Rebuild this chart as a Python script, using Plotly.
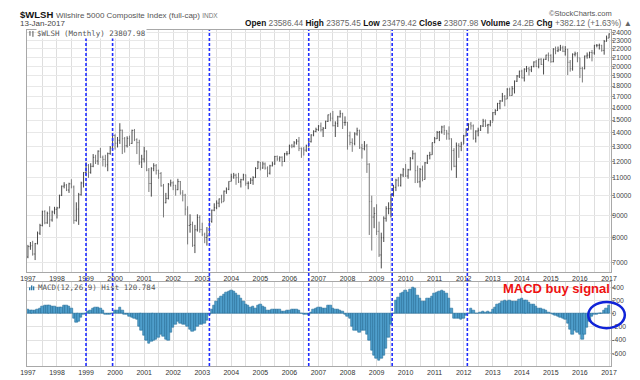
import plotly.graph_objects as go
import pandas as pd
import math

# ---------------- data ----------------
months = pd.date_range("1997-01-01", periods=241, freq="MS")
first_open = 7198

closes = [
    7610, 7647, 7314, 7733, 8178, 8524, 9180, 8644, 9094, 8780, 9162, 9297,
    9362, 10021, 10522, 10584, 10308, 10658, 10479, 8759, 9306, 10053, 10705, 11321,
    11772, 11330, 11706, 12284, 12042, 12697, 12290, 12148, 11801, 12539, 12917, 13811,
    13248, 13459, 14207, 13580, 13070, 13601, 13235, 14190, 13503, 13293, 11968, 12173,
    12704, 11469, 10675, 11558, 11742, 11448, 11264, 10542, 9628, 9856, 10632, 10712,
    10567, 10326, 10786, 10144, 10031, 9304, 8524, 8566, 7664, 8327, 8895, 8340,
    8129, 7991, 8058, 8711, 9251, 9375, 9606, 9828, 9681, 10244, 10349, 10796,
    11062, 11163, 11014, 10763, 10893, 11180, 10686, 10689, 10867, 11019, 11562, 11974,
    11600, 11855, 11594, 11280, 11736, 11853, 12342, 12179, 12288, 12010, 12520, 12520,
    13057, 13038, 13273, 13394, 12892, 12854, 12767, 13064, 13359, 13848, 14118, 14254,
    14526, 14237, 14351, 14898, 15428, 15154, 14553, 14740, 15268, 15525, 14811, 14816,
    13786, 13306, 13227, 13925, 14172, 12928, 12864, 13059, 11839, 9688, 8917, 9087,
    8259, 7277, 7979, 8859, 9329, 9331, 10073, 10461, 10867, 10569, 11175, 11497,
    11115, 11487, 12220, 12520, 11439, 10771, 11512, 10913, 11926, 12401, 12455, 13293,
    13568, 14042, 14080, 14454, 14192, 13932, 13569, 12739, 11710, 13097, 13031, 13180,
    13780, 14272, 14677, 14538, 13601, 14140, 14207, 14530, 14911, 14588, 14629, 14832,
    15610, 15783, 16398, 16615, 17041, 16786, 17700, 17114, 17741, 18478, 18997, 19501,
    18806, 19711, 19753, 19631, 20005, 20484, 19983, 20795, 20216, 20786, 21255, 21207,
    20509, 21950, 21750, 21850, 22100, 21700, 21900, 20450, 19750, 21350, 21400, 20950,
    19800, 19750, 21150, 21250, 21550, 21500, 22400, 22400, 22400, 21800, 22870, 23280,
    23808,
]

highs = [
    7680, 7800, 7850, 7760, 8250, 8600, 9230, 9250, 9180, 9450, 9230, 9420,
    9420, 10050, 10560, 10750, 10650, 10720, 10920, 10560, 9650, 10150, 10780, 11350,
    11950, 11850, 11900, 12500, 12450, 12750, 12920, 12400, 12450, 12600, 13050, 13850,
    13900, 13700, 14750, 14250, 13700, 13750, 13800, 14250, 14300, 13600, 13500, 12450,
    13000, 12750, 11600, 11650, 11900, 11850, 11500, 11350, 10650, 10150, 10700, 10900,
    10800, 10600, 10950, 10820, 10300, 10100, 9450, 9050, 8700, 8550, 9050, 9000,
    8650, 8200, 8450, 8750, 9280, 9600, 9750, 9850, 10050, 10280, 10450, 10800,
    11250, 11300, 11250, 11300, 10950, 11250, 11200, 10800, 11000, 11100, 11650, 12050,
    11980, 12000, 11950, 11700, 11800, 12000, 12380, 12400, 12350, 12350, 12580, 12700,
    13150, 13200, 13400, 13550, 13700, 12950, 13000, 13150, 13400, 13900, 14200, 14400,
    14600, 14800, 14450, 14950, 15450, 15600, 15750, 14900, 15350, 15810, 15600, 15300,
    14850, 14100, 13600, 14050, 14400, 14250, 13200, 13400, 13200, 11900, 10000, 9400,
    9550, 8700, 8200, 8950, 9450, 9650, 10100, 10600, 10950, 11050, 11250, 11600,
    11850, 11550, 12300, 12750, 12600, 11750, 11600, 11750, 11980, 12450, 12650, 13300,
    13700, 14150, 14150, 14550, 14600, 14200, 14500, 13600, 12900, 13300, 13250, 13350,
    13850, 14350, 14750, 14850, 14650, 14200, 14400, 14600, 15100, 15050, 14700, 15000,
    15650, 15900, 16450, 16700, 17350, 17150, 17800, 17850, 18000, 18550, 19100, 19550,
    19650, 19800, 20050, 19950, 20050, 20550, 20700, 20850, 20900, 20850, 21300, 21550,
    21350, 22050, 22250, 22250, 22450, 22350, 22300, 22000, 20700, 21450, 21650, 21600,
    20950, 19950, 21200, 21550, 21650, 21850, 22450, 22550, 22600, 22450, 23050, 23600,
    23875,
]

lows = [
    7150, 7480, 7250, 7080, 7700, 8100, 8480, 8580, 8600, 8450, 8700, 9050,
    8850, 9350, 9980, 10400, 10250, 10150, 10400, 8600, 8700, 8550, 10000, 10450,
    11150, 11000, 11250, 11650, 11850, 11800, 12250, 11700, 11650, 11400, 12450, 12850,
    12800, 12950, 13200, 12500, 12600, 12950, 13050, 13200, 13400, 12500, 11800, 11600,
    11950, 11400, 10200, 9950, 11400, 11200, 10950, 10500, 8900, 9600, 9800, 10500,
    10300, 10000, 10300, 10050, 9700, 9000, 7700, 8200, 7600, 7350, 8250, 8200,
    8050, 7750, 7650, 8050, 8650, 9200, 9300, 9400, 9600, 9700, 10100, 10300,
    10800, 10950, 10600, 10700, 10450, 10850, 10550, 10350, 10650, 10600, 11000, 11550,
    11450, 11550, 11500, 11050, 11200, 11700, 11800, 12050, 12000, 11700, 11980, 12400,
    12500, 12900, 12950, 13150, 12700, 12250, 12400, 12650, 12950, 13300, 13750, 14050,
    14150, 14100, 13700, 14300, 14850, 14900, 14500, 13700, 14450, 15200, 14300, 14550,
    12800, 13100, 12650, 13100, 13800, 12850, 12200, 12750, 11300, 8100, 7450, 8400,
    8100, 7200, 6770, 7800, 8700, 9050, 8900, 9950, 10250, 10500, 10500, 11050,
    11050, 10950, 11450, 12150, 10700, 10700, 10450, 10800, 10900, 11850, 12150, 12450,
    13250, 13550, 13400, 13950, 13850, 13500, 13500, 11450, 11650, 11000, 12250, 12700,
    13200, 13750, 14200, 14250, 13500, 13300, 13750, 14150, 14450, 14450, 13950, 14500,
    14900, 15400, 15750, 15900, 16550, 16150, 16800, 17050, 17100, 17300, 18400, 18800,
    18750, 18450, 19400, 19050, 19400, 19900, 19950, 19800, 20150, 19150, 20700, 20550,
    20400, 20450, 21350, 21600, 21750, 21600, 21200, 19100, 19450, 19550, 21100, 20450,
    18800, 18350, 19700, 20850, 20900, 20550, 21300, 22150, 21900, 21650, 21300, 22850,
    23300,
]

macd_hist = [
    60, 55, 45, 50, 60, 75, 110, 130, 125, 120, 110, 105,
    100, 95, 95, 130, 130, 110, 85, -65, -125, -115, -55, -5,
    10, 35, 45, 85, 100, 95, 85, 45, -5, -15, -15, 0,
    45, 45, 95, 45, -5, -15, -35, -55, -65, -90, -190, -260,
    -335, -400, -445, -420, -400, -385, -360, -310, -350, -385, -400, -285,
    -210, -155, -115, -140, -155, -165, -190, -235, -270, -250, -190, -165,
    -155, -140, -105, -15, 60, 125, 195, 240, 270, 290, 320, 340,
    350, 340, 315, 280, 230, 195, 145, 125, 95, 110, 75, 125,
    135, 110, 95, 45, 45, 60, 60, 60, 60, 35, 35, 45,
    45, 60, 60, 60, 45, 10, -5, -15, -20, 25, 60, 85,
    95, 95, 85, 85, 120, 125, 85, 60, 60, 45, 35, -15,
    -35, -65, -190, -260, -260, -285, -260, -260, -310, -410, -560, -630,
    -680, -715, -680, -630, -530, -360, -165, 10, 205, 255, 305, 330,
    355, 330, 370, 405, 380, 280, 230, 185, 195, 230, 240, 270,
    305, 330, 340, 355, 340, 305, 230, 85, -75, -65, -75, -90,
    -65, -25, 5, 85, 45, 10, 10, 25, 35, 25, 35, 25,
    60, 95, 135, 160, 185, 205, 195, 205, 185, 195, 195, 220,
    230, 205, 205, 175, 145, 135, 110, 85, 75, 60, 45, 25,
    10, -15, -25, -40, -55, -65, -90, -140, -235, -310, -260, -285,
    -310, -385, -310, -210, -115, -40, -15, -15, 10, 10, 45, 85,
    120.784,
]

price_ticks = [7000, 8000, 9000, 10000, 11000, 12000, 13000, 14000, 15000, 16000,
               17000, 18000, 19000, 20000, 21000, 22000, 23000, 24000]
macd_ticks = [-600, -400, -200, 0, 200, 400]
year_labels = ["1997", "1998", "1999", "2000", "2001", "2002", "2003", "2004", "2005",
               "2006", "2007", "2008", "2009", "2010", "2011", "2012", "2013", "2014",
               "2015", "2016", "2017"]
signal_dates = ["1999-01-01", "1999-12-01", "2003-04-01", "2006-09-01",
                "2009-07-16", "2012-02-16"]

opens = [first_open] + closes[:-1]

# ---------------- layout helpers ----------------
W, H = 640, 380
PL, PR, PT, PB = 12, 603, 22, 368


def px(x):
    return (x - PL) / (PR - PL)


def py(y):
    return (PB - y) / (PB - PT)


grid_dates = pd.date_range("1997-01-01", "2017-01-01", freq="6MS")
grid_text = []
for d in grid_dates:
    grid_text.append(year_labels[d.year - 1997] if d.month == 1 else "")

FONT = "Liberation Sans, Arial, sans-serif"
GRID = "#dedede"
AXL = "#a8a8a8"

fig = go.Figure()

fig.add_trace(go.Ohlc(
    x=months, open=opens, high=highs, low=lows, close=closes,
    increasing=dict(line=dict(color="#4a4a4a", width=1)),
    decreasing=dict(line=dict(color="#7a7a7a", width=1)),
    tickwidth=0.35, xaxis="x", yaxis="y", showlegend=False, hoverinfo="skip",
))

fig.add_trace(go.Bar(
    x=months, y=macd_hist, xaxis="x2", yaxis="y2",
    width=31 * 86400000,
    marker=dict(color="#4f9ecb", line=dict(color="#226c99", width=0.6)),
    showlegend=False, hoverinfo="skip",
))

xcommon = dict(
    type="date", range=["1996-12-20", "2017-01-26"],
    tickmode="array", tickvals=list(grid_dates), ticktext=grid_text,
    showgrid=True, gridcolor=GRID, gridwidth=1,
    showline=True, linecolor=AXL, mirror=True, ticks="",
    tickfont=dict(family=FONT, size=7, color="#333"),
    zeroline=False,
)

ycommon = dict(
    side="right", tickmode="array", showline=True, linecolor=AXL, mirror=True,
    ticks="outside", ticklen=2, tickcolor="#999", ticklabelstandoff=-3,
    tickfont=dict(family=FONT, size=6.8, color="#444"), zeroline=False,
    showgrid=True,
)

fig.update_layout(
    width=W, height=H,
    margin=dict(l=PL, r=W - PR, t=PT, b=H - PB),
    paper_bgcolor="white", plot_bgcolor="white",
    bargap=0, showlegend=False,
    xaxis=dict(xcommon, anchor="y", domain=[0, 1],
               rangeslider=dict(visible=False)),
    xaxis2=dict(xcommon, anchor="y2", domain=[0, 1], matches="x"),
    yaxis=dict(
        ycommon, type="log", domain=[py(271), 1],
        range=[math.log10(6648), math.log10(24315)],
        tickvals=price_ticks, ticktext=[str(v) for v in price_ticks],
        gridcolor="#e8e8e8",
    ),
    yaxis2=dict(
        ycommon, domain=[0, py(282)], range=[-796, 478],
        tickvals=macd_ticks, ticktext=[str(v) for v in macd_ticks],
        gridcolor="#e2e2e2",
    ),
)

shapes = []
for d in signal_dates:
    shapes.append(dict(type="line", xref="x", yref="paper", x0=d, x1=d, y0=0, y1=1,
                       line=dict(color="#1f2cff", width=1.6, dash="3px,2px")))
# buy-signal ellipse
shapes.append(dict(type="circle", xref="paper", yref="paper",
                   x0=px(580), x1=px(617), y0=py(329), y1=py(302),
                   line=dict(color="#1023d8", width=2.5)))
# legend icons
shapes.append(dict(type="line", xref="paper", yref="paper", x0=px(15), x1=px(15),
                   y0=py(28), y1=py(23), line=dict(color="#555", width=1)))
shapes.append(dict(type="line", xref="paper", yref="paper", x0=px(18), x1=px(18),
                   y0=py(29), y1=py(23), line=dict(color="#555", width=1)))
for i, hgt in enumerate([3, 5, 4]):
    shapes.append(dict(type="rect", xref="paper", yref="paper",
                       x0=px(14 + 2 * i), x1=px(15.4 + 2 * i),
                       y0=py(290), y1=py(290 - hgt),
                       line=dict(width=0), fillcolor="#2d79a8"))
fig.update_layout(shapes=shapes)

ann = []
ann.append(dict(
    x=px(3), y=py(6), xref="paper", yref="paper", xanchor="left", yanchor="middle",
    showarrow=False,
    text="<b>$WLSH</b> <span style='color:#555;font-size:8px'>Wilshire 5000 Composite "
         "Index (full-cap) </span><span style='color:#777;font-size:6.5px'>INDX</span>",
    font=dict(family=FONT, size=9.5, color="#111"),
))
ann.append(dict(
    x=px(3), y=py(15), xref="paper", yref="paper", xanchor="left", yanchor="middle",
    showarrow=False, text="13-Jan-2017", font=dict(family=FONT, size=8, color="#444"),
))
ann.append(dict(
    x=px(606), y=py(5), xref="paper", yref="paper", xanchor="right", yanchor="middle",
    showarrow=False, text="©StockCharts.com",
    font=dict(family=FONT, size=7.5, color="#555"),
))
g = "<span style='color:#666'>"
ann.append(dict(
    x=px(626), y=py(15), xref="paper", yref="paper", xanchor="right", yanchor="middle",
    showarrow=False,
    text=("<b>Open</b> " + g + "23586.44</span> <b>High</b> " + g + "23875.45</span> "
          "<b>Low</b> " + g + "23479.42</span> <b>Close</b> " + g + "23807.98</span> "
          "<b>Volume</b> " + g + "24.2B</span> <b>Chg</b> " + g + "+382.12 (+1.63%) ▲</span>"),
    font=dict(family=FONT, size=8.3, color="#111"),
))
ann.append(dict(
    x=px(21), y=py(25.5), xref="paper", yref="paper", xanchor="left", yanchor="middle",
    showarrow=False, text="$WLSH (Monthly) 23807.98",
    font=dict(family="DejaVu Sans Mono, monospace", size=7.5, color="#555"),
    bgcolor="white", borderpad=0,
))
ann.append(dict(
    x=px(21), y=py(287.5), xref="paper", yref="paper", xanchor="left", yanchor="middle",
    showarrow=False, text="MACD(12,26,9) Hist 120.784",
    font=dict(family="DejaVu Sans Mono, monospace", size=7.5, color="#555"),
))
ann.append(dict(
    x=px(548), y=py(288), xref="paper", yref="paper", xanchor="center", yanchor="middle",
    showarrow=False, text="<b>MACD buy signal</b>",
    font=dict(family=FONT, size=13, color="#ee1111"),
))
fig.update_layout(annotations=ann)

fig.write_html("out.html")
